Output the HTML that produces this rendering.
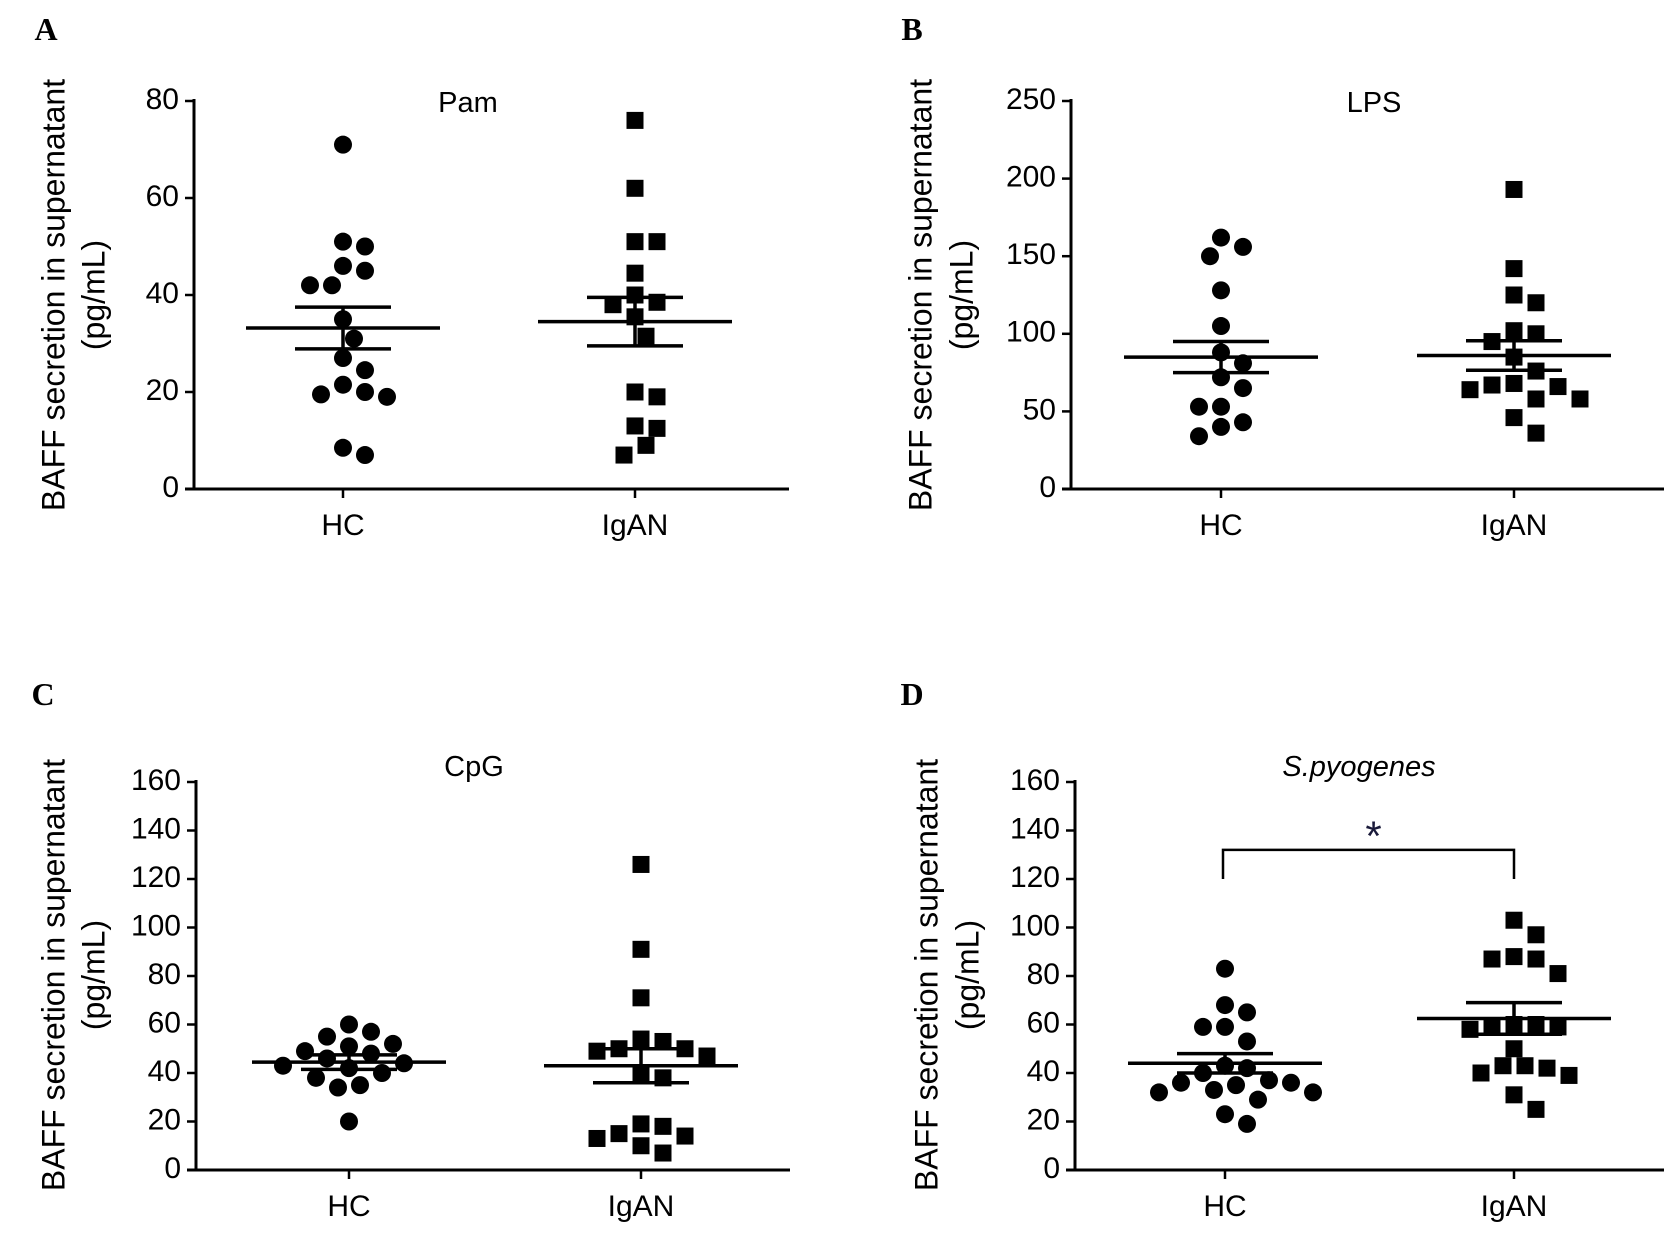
<!DOCTYPE html>
<html><head><meta charset="utf-8"><style>
html,body{margin:0;padding:0;background:#fff;}
svg{display:block;font-family:"Liberation Sans",Arial,sans-serif;}
</style></head><body>
<svg id="fig" width="1680" height="1236" viewBox="0 0 1680 1236"></svg>
<script>
const categories = ["HC","IgAN"];
const titles = ["Pam","LPS","CpG","S.pyogenes"];
const panelLetters = ["A","B","C","D"];
const yMaxes = [80,250,160,160];
const yTicksA = [0,20,40,60,80];
const yTicksB = [0,50,100,150,200,250];
const yTicksC = [0,20,40,60,80,100,120,140,160];
const yTicksD = [0,20,40,60,80,100,120,140,160];
const hcA = [71,51,50,46,45,42,42,35,31,27,24.5,21.5,19.5,19,20,8.5,7];
const iganA = [76,62,51,51,44.5,40,38.5,38,35.5,31.5,20,19,13,12.5,9,7];
const hcB = [162,156,150,128,105,88,81,72,65,53,53,43,40,34];
const iganB = [193,142,125,120,102,100,95,85,76,68,67,66,64,58,58,46,36];
const hcC = [60,57,55,52,51,49,48,46,44,43,42,40,38,35,34,20];
const iganC = [126,91,71,54,53,50,50,49,47,40,38,19,18,15,14,13,10,7];
const hcD = [83,68,65,59,59,53,43,42,40,37,36,36,35,33,32,32,29,23,19];
const iganD = [103,97,88,87,87,81,60,60,59,59,58,50,43,42,43,40,39,31,25];
const meansHC = [33.2,85,44.5,44];
const semHC = [4.3,10,3,4];
const meansIgAN = [34.5,86,43,62.5];
const semIgAN = [5,9.5,7,6.5];
</script>
<script>
const NS="http://www.w3.org/2000/svg";
const svg=document.getElementById('fig');
function mk(tag,attrs,parent){const e=document.createElementNS(NS,tag);for(const k in attrs)e.setAttribute(k,attrs[k]);(parent||svg).appendChild(e);return e;}
const layouts=[
 {ax:194,y0:489,yt:101,xe:789,hc:343,ig:635,tx:468,ty:112,lx:46,ly:40,t1x:56,t2x:96,tcy:295},
 {ax:1071,y0:489,yt:101,xe:1664,hc:1221,ig:1514,tx:1374,ty:112,lx:912,ly:40,t1x:923,t2x:964,tcy:295},
 {ax:196,y0:1170,yt:782,xe:790,hc:349,ig:641,tx:474,ty:776,lx:43,ly:705,t1x:56,t2x:96,tcy:975},
 {ax:1075,y0:1170,yt:782,xe:1664,hc:1225,ig:1514,tx:1359,ty:776,lx:912,ly:705,t1x:929,t2x:970,tcy:975}
];
const ticks=[yTicksA,yTicksB,yTicksC,yTicksD];
const hcs=[hcA,hcB,hcC,hcD], igs=[iganA,iganB,iganC,iganD];
function swarm(vals,cx,yf){
  const sorted=vals.slice().sort((a,b)=>b-a);const placed=[];
  sorted.forEach(v=>{const y=yf(v);let x=cx;
    for(let i=0;i<40;i++){const off=(i%2?1:-1)*Math.ceil(i/2)*11;const cand=cx+off;
      if(placed.every(p=>Math.hypot(p.x-cand,p.y-y)>=20)){x=cand;break;}}
    placed.push({x:x,y:y,v:v});});
  return placed;
}
layouts.forEach((L,pi)=>{
  const g=mk('g',{});
  
  
  const yf=v=>L.y0-(v/yMaxes[pi])*(L.y0-L.yt);
  const let_=mk('text',{x:L.lx,y:L.ly,'font-family':'Liberation Serif,serif','font-weight':'bold','font-size':32,'text-anchor':'middle'},g);
  let_.textContent=panelLetters[pi];
  
  
  const t=mk('text',{x:L.tx,y:L.ty,'font-size':29,'text-anchor':'middle','font-style':pi==3?'italic':'normal'},g);
  t.textContent=titles[pi];
  
  
  [[L.t1x,"BAFF secretion in supernatant"],[L.t2x,"(pg/mL)"]].forEach(([x,s])=>{
    const yt=mk('text',{x:x,y:L.tcy,'font-size':32,'text-anchor':'middle','dominant-baseline':'middle',transform:`rotate(-90 ${x} ${L.tcy})`},g);
    yt.textContent=s;
    
    
  });
  const ya=mk('line',{x1:L.ax,y1:L.yt-2,x2:L.ax,y2:L.y0,stroke:'#000','stroke-width':3},g);
  
  
  const xa=mk('line',{x1:L.ax-9,y1:L.y0,x2:L.xe,y2:L.y0,stroke:'#000','stroke-width':3},g);
  
  
  ticks[pi].forEach(v=>{
    mk('line',{x1:L.ax-9,y1:yf(v),x2:L.ax,y2:yf(v),stroke:'#000','stroke-width':2.5},g);
    const tl=mk('text',{x:L.ax-15,y:yf(v),'font-size':30,'text-anchor':'end','dominant-baseline':'middle'},g);
    tl.textContent=v;
    
    
  });
  [L.hc,L.ig].forEach((cx,ci)=>{
    mk('line',{x1:cx,y1:L.y0,x2:cx,y2:L.y0+9,stroke:'#000','stroke-width':2.5},g);
    const cl=mk('text',{x:cx,y:L.y0+38,'font-size':30,'text-anchor':'middle','dominant-baseline':'middle'},g);
    cl.textContent=categories[ci];
    
    
    const pts=swarm(ci==0?hcs[pi]:igs[pi],cx,yf);
    pts.forEach(p=>{
      let m;
      if(ci==0){m=mk('circle',{cx:p.x,cy:p.y,r:9,fill:'#000'},g);}
      else{m=mk('rect',{x:p.x-8.5,y:p.y-8.5,width:17,height:17,fill:'#000'},g);}
      
      
    });
    const mean=ci==0?meansHC[pi]:meansIgAN[pi], se=ci==0?semHC[pi]:semIgAN[pi];
    const ml=mk('line',{x1:cx-97,y1:yf(mean),x2:cx+97,y2:yf(mean),stroke:'#000','stroke-width':3.5},g);
    
    
    [mean+se,mean-se].forEach(v=>{
      const sl=mk('line',{x1:cx-48,y1:yf(v),x2:cx+48,y2:yf(v),stroke:'#000','stroke-width':3.5},g);
      
      
    });
    mk('line',{x1:cx,y1:yf(mean+se),x2:cx,y2:yf(mean-se),stroke:'#000','stroke-width':3.5},g);
  });
  if(pi==3){
    const br=mk('path',{d:`M${L.hc-2} ${yf(120)} V${yf(132)} H${L.ig} V${yf(120)}`,fill:'none',stroke:'#000','stroke-width':2.5},g);
    
    
    const st=mk('text',{x:(L.hc+L.ig)/2+4,y:yf(140)+20,'font-size':42,'text-anchor':'middle',fill:'#1a1a3a'},g);
    st.textContent='*';
    
    
  }
});
</script>
</body></html>
